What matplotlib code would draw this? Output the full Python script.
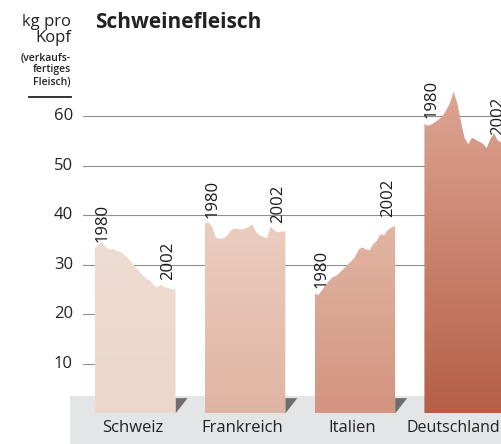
import numpy as np
import matplotlib
matplotlib.use("Agg")
import matplotlib.pyplot as plt
from matplotlib.colors import to_rgb

plt.rcParams['font.family'] = ['Open Sans', 'DejaVu Sans']

# data: kg pro Kopf, 1980-2002
years = list(range(1980, 2003))
countries = ["Schweiz", "Frankreich", "Italien", "Deutschland"]
schweiz = [33.3, 34.0, 34.6, 33.5, 33.0, 33.2, 32.8, 32.6, 32.0, 31.3, 30.5, 29.6,
           28.8, 27.9, 27.2, 26.8, 25.9, 25.4, 26.0, 25.5, 25.3, 25.1, 25.1]
frankreich = [38.3, 38.5, 37.7, 35.5, 35.2, 35.3, 35.8, 36.8, 37.3, 37.2, 37.1, 37.3,
              37.6, 38.1, 36.6, 35.9, 35.6, 35.3, 37.7, 36.9, 36.5, 36.7, 36.7]
italien = [24.2, 23.9, 24.8, 25.9, 26.8, 27.5, 27.8, 28.5, 29.2, 30.0, 30.7, 31.5,
           33.0, 33.5, 33.1, 32.9, 34.1, 34.8, 36.2, 35.9, 37.0, 37.5, 37.8]
deutschland = [58.3, 58.0, 58.3, 58.8, 59.3, 60.0, 61.2, 62.6, 64.9, 62.5, 58.8, 55.5,
               54.3, 55.6, 55.2, 54.8, 54.4, 53.5, 55.3, 56.5, 55.1, 54.6, 54.4]
series = [schweiz, frankreich, italien, deutschland]
yticks = [10, 20, 30, 40, 50, 60]

colors_top = ["#EFDCD2", "#EBCDBF", "#E2B5A3", "#DCA593"]
colors_bot = ["#EDD6CB", "#E0B4A2", "#D39480", "#B65F46"]

W, H = 501, 444
fig = plt.figure(figsize=(W / 100, H / 100), dpi=100)
ax = fig.add_axes([0, 0, 1, 1])
ax.axis('off')

# pixel mapping: px = 95 + 3.66*x ; py = 413.5 - 4.96*v
sx, x0px = 3.66, 95
sy, y0px = 4.96, 413.5
xlim = (-x0px / sx, (W - x0px) / sx)
ylim = (-(H - y0px) / sy, y0px / sy)
slot = 30
band_top = (y0px - 396) / sy

# grey base band
ax.fill_between([(70 - x0px) / sx, xlim[1]], ylim[0], band_top, color="#E4E5E7", lw=0, zorder=0)

# grid lines
grid_x0 = (83 - x0px) / sx
for t in yticks:
    if t >= 30:
        ax.plot([grid_x0, xlim[1]], [t, t], color="#8f8f8f", lw=0.8, zorder=1)
    else:
        ax.plot([grid_x0, grid_x0 + 12 / sx], [t, t], color="#8f8f8f", lw=0.8, zorder=1)
    ax.text((73 - x0px) / sx, t, str(t), ha='right', va='center', fontsize=12, color="#222222")

yrs = np.array(years) - years[0]
for i, (name, vals) in enumerate(zip(countries, series)):
    xs = yrs + i * slot
    vals = np.array(vals)
    poly = ax.fill_between(xs, 0, vals, color='none', lw=0, zorder=2)
    top, bot = np.array(to_rgb(colors_top[i])), np.array(to_rgb(colors_bot[i]))
    f = np.linspace(0, 1, 256)[:, None, None]
    grad = bot + (top - bot) * f
    im = ax.imshow(grad, extent=[xs[0], xs[-1], 0, vals.max()], origin='lower',
                   aspect='auto', zorder=2, interpolation='bilinear')
    im.set_clip_path(poly.get_paths()[0], transform=ax.transData)
    # shadow triangle
    ax.fill([xs[-1], xs[-1] + 3.3, xs[-1]], [3.1, 3.1, 0], color="#6e6e6e", lw=0, zorder=1.5)
    # year labels
    ax.text(xs[0] - 0.2, vals[0] + 1.2, str(years[0]), rotation=90, ha='left', va='bottom',
            fontsize=12, color="#1a1a1a", zorder=3)
    ax.text(xs[-1] + 0.2, vals[-1] + 1.8, str(years[-1]), rotation=90, ha='right', va='bottom',
            fontsize=12, color="#1a1a1a", zorder=3)
    if i == len(countries) - 1:
        ax.text((W - 1 - x0px) / sx, (y0px - 428) / sy, name, ha='right', va='center',
                fontsize=11.5, color="#222222", zorder=3)
    else:
        ax.text((xs[0] + xs[-1]) / 2 - 0.8, (y0px - 428) / sy, name, ha='center', va='center',
                fontsize=12, color="#222222", zorder=3)

ax.set_xlim(xlim)
ax.set_ylim(ylim)

# title and unit
fig.text(95 / W, 1 - 28 / H, "Schweinefleisch", fontsize=15, fontweight='bold',
         color="#222222", ha='left', va='baseline')
ux = 71 / W
fig.text(ux, 1 - 26 / H, "kg pro", fontsize=12, ha='right', va='baseline', color="#222222")
fig.text(ux, 1 - 42 / H, "Kopf", fontsize=12, ha='right', va='baseline', color="#222222")
fig.text(ux, 1 - 61 / H, "(verkaufs-", fontsize=7.5, fontweight='semibold', ha='right',
         va='baseline', color="#222222")
fig.text(ux, 1 - 72 / H, "fertiges", fontsize=7.5, fontweight='semibold', ha='right',
         va='baseline', color="#222222")
fig.text(ux, 1 - 85 / H, "Fleisch)", fontsize=7.5, fontweight='semibold', ha='right',
         va='baseline', color="#222222")
fig.add_artist(plt.Line2D([29 / W, 71 / W], [1 - 97 / H, 1 - 97 / H], color="#222222", lw=1.3))

fig.savefig("out.png", dpi=100)
